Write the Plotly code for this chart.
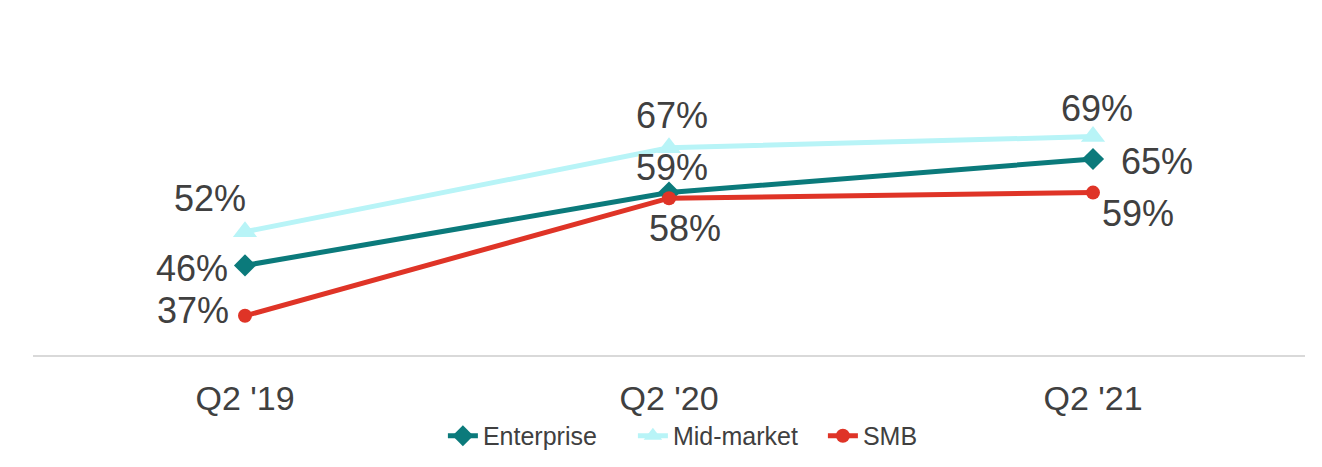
import plotly.graph_objects as go

categories = ["Q2 '19", "Q2 '20", "Q2 '21"]
enterprise = [46, 59, 65]
mid_market = [52, 67, 69]
smb = [37, 58, 59]

FONT = "Liberation Sans, Arial, sans-serif"
TXT = "#404040"
LBL = 36

# label offsets in pixels (style only): (xshift, yshift) per point
ent_off = [(-53, -3), (3, 25), (64, -2)]
mid_off = [(-35, 33), (3, 32), (4, 28)]
smb_off = [(-52, 5), (16, -30), (45, -21)]

series = [
    ("Enterprise", enterprise, "#0B7A7B", "diamond", 17, ent_off),
    ("Mid-market", mid_market, "#B8F4F7", "triangle-up", 21, mid_off),
    ("SMB", smb, "#DF3427", "circle", 14, smb_off),
]

fig = go.Figure()
for name, vals, color, sym, size, offs in series:
    fig.add_trace(go.Scatter(
        x=categories, y=vals, name=name, mode="lines+markers",
        line=dict(color=color, width=5),
        marker=dict(symbol=sym, size=size, color=color),
        cliponaxis=False))
    for c, v, (dx, dy) in zip(categories, vals, offs):
        fig.add_annotation(x=c, y=v, text=f"{v}%", showarrow=False,
                           xshift=dx, yshift=dy, xanchor="center", yanchor="middle",
                           font=dict(size=LBL, color=TXT, family=FONT))

fig.update_layout(
    width=1306, height=451,
    margin=dict(l=25, r=9, t=67, b=104, autoexpand=False),
    paper_bgcolor="white", plot_bgcolor="white",
    font=dict(family=FONT, color=TXT),
    xaxis=dict(type="category", range=[-0.5, 2.5], showgrid=False,
               showline=True, linecolor="#D9D9D9", linewidth=2,
               ticks="", ticklabelstandoff=12,
               tickfont=dict(size=34, color=TXT, family=FONT),
               zeroline=False),
    yaxis=dict(range=[30, 80], visible=False, showgrid=False, zeroline=False),
    showlegend=True,
    legend=dict(orientation="h", xref="container", yref="container",
                x=0.333, y=0.051, xanchor="left", yanchor="middle",
                font=dict(size=25, color=TXT, family=FONT),
                entrywidth=145, entrywidthmode="pixels",
                tracegroupgap=0, bgcolor="rgba(0,0,0,0)"),
)

fig.write_html("out.html")
